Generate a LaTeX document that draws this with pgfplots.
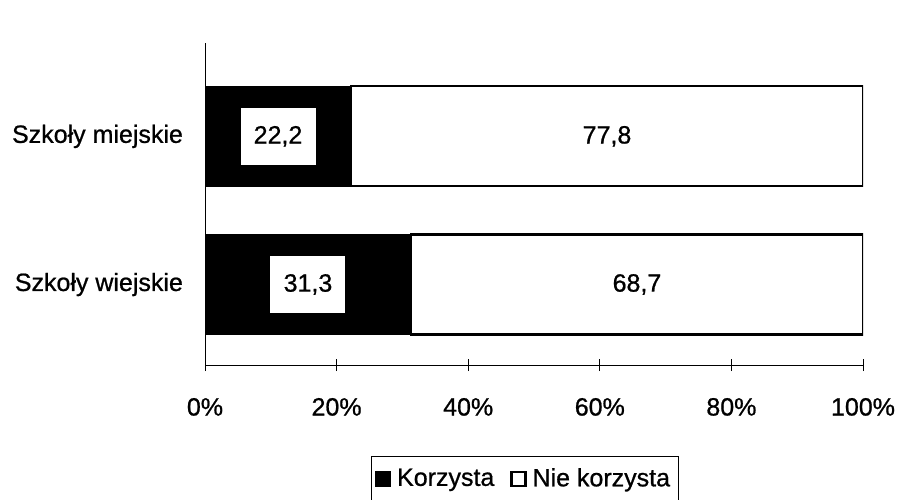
\documentclass[border=0pt]{standalone}
\usepackage{pgfplots}
\pgfplotsset{compat=1.18}
\usepackage{fontspec}
\setmainfont{Liberation Sans}[FakeBold=0.8]
\begin{document}
\begin{tikzpicture}
\path[use as bounding box] (0pt,0pt) rectangle (449.5pt,249.5pt);
\begin{axis}[
  at={(102.5pt,67pt)}, anchor=south west,
  scale only axis, width=329pt, height=161pt,
  xbar stacked, bar width=50pt,
  xmin=0, xmax=100, ymin=0, ymax=2,
  axis x line*=bottom, axis y line*=left,
  xtick={0,20,40,60,80,100},
  xticklabels={0\%,20\%,40\%,60\%,80\%,100\%},
  ytick={0.5,1.42},
  yticklabels={Szkoły wiejskie,Szkoły miejskie},
  extra y ticks={2}, extra y tick labels={},
  extra y tick style={major tick length=5pt, tick align=center},
  y tick style={draw=none},
  x tick style={black, thin},
  tick align=center, major tick length=6pt,
  x tick label style={font=\fontsize{12.5}{14}\selectfont, yshift=-10pt},
  y tick label style={font=\fontsize{12.5}{14}\selectfont, xshift=-4.5pt},
  axis line style={black, thin},
  legend columns=2,
  legend style={at={(0.486,-0.282)}, anchor=north, draw=black, thin,
    font=\fontsize{12.5}{14}\selectfont, inner xsep=2pt, inner ysep=4pt,
    /tikz/every odd column/.append style={column sep=1pt},
    /tikz/every even column/.append style={column sep=6pt}},
  legend image code/.code={\draw[#1] (0pt,-3.5pt) rectangle (7pt,3.5pt);},
]
\addplot[fill=black, draw=black, thick] coordinates {(31.3,0.5) (22.2,1.42)};
\addlegendentry{Korzysta}
\addplot[fill=white, draw=black, line width=1.1pt] coordinates {(68.7,0.5) (77.8,1.42)};
\addlegendentry{Nie korzysta}
\end{axis}
\begin{axis}[
  at={(102.5pt,67pt)}, anchor=south west,
  scale only axis, width=329pt, height=161pt,
  xmin=0, xmax=100, ymin=0, ymax=2,
  hide axis, clip=false,
]
\addplot[only marks, mark=none, nodes near coords, point meta=explicit symbolic,
  every node near coord/.style={anchor=center, fill=white, minimum width=37.5pt,
    minimum height=28.5pt, inner sep=0pt, font=\fontsize{12.5}{14}\selectfont}]
  table[meta=lab] {
x y lab
11.1 1.42 {22,2}
15.65 0.5 {31,3}
};
\addplot[only marks, mark=none, nodes near coords, point meta=explicit symbolic,
  every node near coord/.style={anchor=center, font=\fontsize{12.5}{14}\selectfont}]
  table[meta=lab] {
x y lab
61.1 1.42 {77,8}
65.65 0.5 {68,7}
};
\end{axis}
\end{tikzpicture}
\end{document}
